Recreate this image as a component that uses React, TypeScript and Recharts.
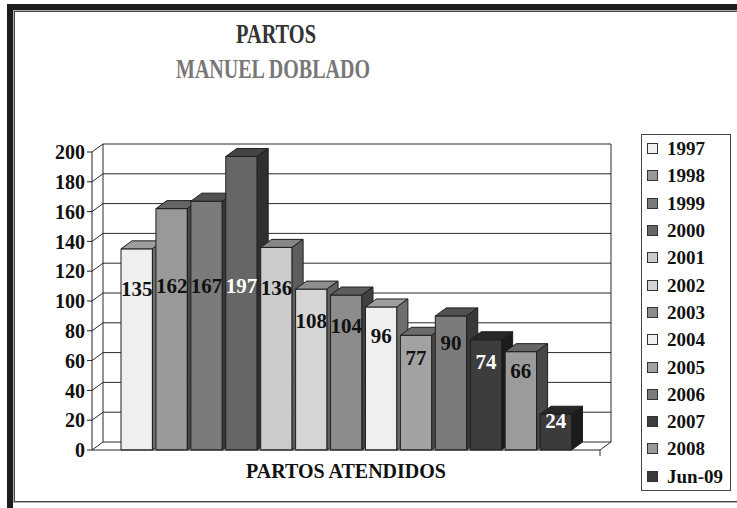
import { BarChart, Bar, XAxis, YAxis, CartesianGrid, LabelList } from 'recharts'

const years = ['1997', '1998', '1999', '2000', '2001', '2002', '2003', '2004', '2005', '2006', '2007', '2008', 'Jun-09']
const partos = [135, 162, 167, 197, 136, 108, 104, 96, 77, 90, 74, 66, 24]
const colors = [
  '#efefef', '#999999', '#7b7b7b', '#666666', '#cbcbcb', '#d5d5d5', '#8c8c8c',
  '#efefef', '#a2a2a2', '#7b7b7b', '#3d3d3d', '#9b9b9b', '#3b3b3b',
]
const yTicks = [0, 20, 40, 60, 80, 100, 120, 140, 160, 180, 200]

const data = years.map((year, i) => ({ year, value: partos[i], color: colors[i] }))

// fake 3d depth
const DX = 11
const DY = 8
const SERIF = '"Liberation Serif", "Times New Roman", serif'
const EDGE = '#1e1e1e'

function gray(hex: string) {
  return parseInt(hex.slice(1, 3), 16)
}

function shade(hex: string, f: number) {
  const c = (i: number) => Math.round(parseInt(hex.slice(i, i + 2), 16) * f).toString(16).padStart(2, '0')
  return `#${c(1)}${c(3)}${c(5)}`
}

function Box3D(props: any) {
  const { x, y, width, height, payload } = props
  const fill = payload.color
  const top = `M${x},${y} L${x + DX},${y - DY} L${x + width + DX},${y - DY} L${x + width},${y} Z`
  const side = `M${x + width},${y} L${x + width + DX},${y - DY} L${x + width + DX},${y + height - DY} L${x + width},${y + height} Z`
  return (
    <g stroke={EDGE} strokeWidth={1} strokeLinejoin="round">
      <rect x={x} y={y} width={width} height={height} fill={fill} />
      <path d={top} fill={shade(fill, 0.66)} />
      <path d={side} fill={shade(fill, 0.46)} />
    </g>
  )
}

function BarLabel(props: any) {
  const x = Number(props.x)
  const y = Number(props.y)
  const width = Number(props.width)
  const height = Number(props.height)
  const v = Number(props.value)
  const k = height / v
  const cy = y + height - Math.min(v * 0.8, 110) * k
  const light = gray(colors[props.index]) < 110
  return (
    <text
      x={x + width / 2}
      y={cy}
      textAnchor="middle"
      dominantBaseline="central"
      fontFamily={SERIF}
      fontWeight="bold"
      fontSize={21}
      fill={light ? '#ffffff' : '#111111'}
    >
      {props.value}
    </text>
  )
}

function HLine(p: any) {
  return (
    <g key={p.key} stroke="#2a2a2a" strokeWidth={1}>
      <line x1={p.x1} y1={p.y1} x2={p.x1 + DX} y2={p.y1 - DY} />
      <line x1={p.x1 + DX} y1={p.y1 - DY} x2={p.x2 + DX} y2={p.y1 - DY} />
    </g>
  )
}

function VLine(p: any) {
  const right = p.index === 1 || p.x1 > p.x + p.width
  return (
    <g key={p.key} stroke="#2a2a2a" strokeWidth={1}>
      <line x1={p.x1} y1={p.y1 - DY} x2={p.x1} y2={p.y2 - DY} />
      {right && <line x1={p.x1 - DX} y1={p.y2} x2={p.x1} y2={p.y2 - DY} />}
      {right && <line x1={p.x1 - DX} y1={p.y2} x2={p.x1 - DX} y2={p.y2 + 6} />}
    </g>
  )
}

export default function App() {
  return (
    <div style={{ position: 'absolute', left: 0, top: 0, width: 737, height: 508, background: '#fff', overflow: 'hidden' }}>
      {/* frame */}
      <div style={{ position: 'absolute', left: 7, top: 4, width: 730, height: 6, background: '#1c1c1c' }} />
      <div style={{ position: 'absolute', left: 7, top: 4, width: 6, height: 504, background: '#1c1c1c' }} />
      <div
        style={{
          position: 'absolute', left: 13, top: 10, width: 740, height: 491,
          borderTop: '1px solid #b0b0b0', borderLeft: '1px solid #b0b0b0', borderBottom: '1px solid #b0b0b0',
        }}
      />
      <div
        style={{
          position: 'absolute', left: 14, top: 11, width: 740, height: 489,
          borderTop: '1px solid #444', borderLeft: '1px solid #444', borderBottom: '1px solid #444',
        }}
      />

      <svg style={{ position: 'absolute', left: 0, top: 0 }} width={737} height={100}>
        <text x={276} y={43} textAnchor="middle" fontFamily={SERIF} fontWeight="bold" fontSize={27}
          fill="#333" textLength={80} lengthAdjust="spacingAndGlyphs">PARTOS</text>
        <text x={273} y={78} textAnchor="middle" fontFamily={SERIF} fontWeight="bold" fontSize={27}
          fill="#777" textLength={194} lengthAdjust="spacingAndGlyphs">MANUEL DOBLADO</text>
      </svg>

      <div style={{ position: 'absolute', left: 0, top: 0 }}>
        <BarChart width={737} height={508} data={data} margin={{ top: 152, left: 32, right: 137, bottom: 28 }} barCategoryGap={0}>
          <CartesianGrid
            horizontal={HLine}
            vertical={VLine}
            verticalCoordinatesGenerator={({ offset }: any) => [offset.left + DX, offset.left + offset.width + DX]}
          />
          <XAxis
            dataKey="year"
            tick={false}
            tickLine={false}
            axisLine={{ stroke: '#222' }}
            padding={{ left: 27, right: 27 }}
            height={30}
            label={{
              value: 'PARTOS ATENDIDOS',
              position: 'insideBottom',
              offset: 2,
              fontFamily: SERIF,
              fontWeight: 'bold',
              fontSize: 20,
              fill: '#111',
            }}
          />
          <YAxis
            domain={[0, 200]}
            ticks={yTicks}
            interval={0}
            width={60}
            tickSize={5}
            axisLine={{ stroke: '#222' }}
            tickLine={{ stroke: '#222' }}
            tick={{ fontFamily: SERIF, fontWeight: 'bold', fontSize: 20, fill: '#111' }}
          />
          <Bar dataKey="value" barSize={35} shape={Box3D} isAnimationActive={false}>
            <LabelList dataKey="value" content={BarLabel} />
          </Bar>
        </BarChart>
      </div>

      {/* legend */}
      <div
        style={{
          position: 'absolute', left: 641, top: 134, width: 88, height: 355,
          border: '1px solid #444', background: '#fff', fontFamily: SERIF,
        }}
      >
        {years.map((y, i) => (
          <div key={y} style={{ height: 27.3, display: 'flex', alignItems: 'center' }}>
            <div style={{ width: 9, height: 9, marginLeft: 5, border: '1px solid #333', background: colors[i] }} />
            <span style={{ marginLeft: 9, fontSize: 19, fontWeight: 'bold', color: '#111', lineHeight: 1 }}>{y}</span>
          </div>
        ))}
      </div>
    </div>
  )
}
